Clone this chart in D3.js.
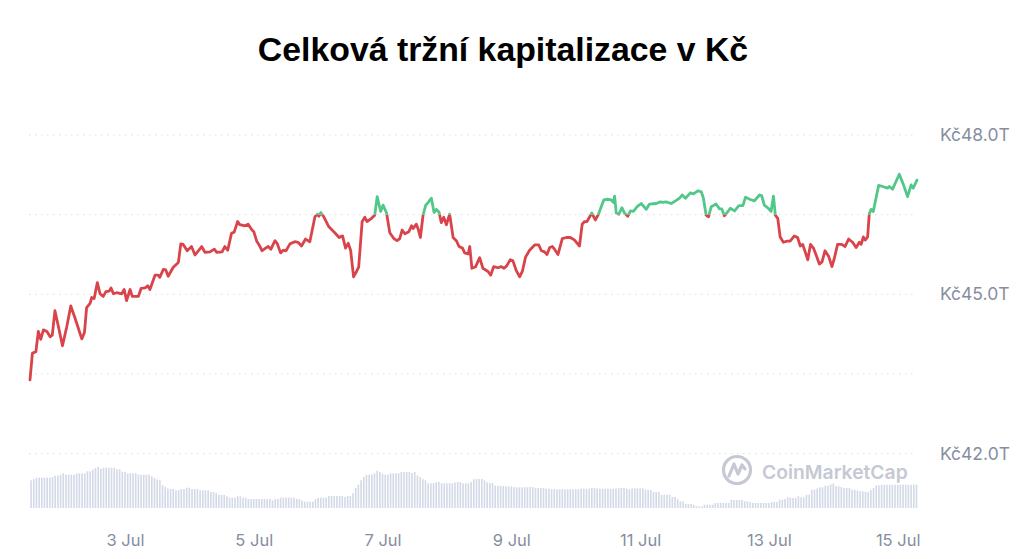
<!DOCTYPE html>
<html>
<head>
<meta charset="utf-8">
<script src="https://cdn.jsdelivr.net/npm/d3@7"></script>
<style>
  html, body { margin: 0; padding: 0; background: #fff; }
  svg { display: block; font-family: Inter, "Noto Sans", sans-serif; }
</style>
</head>
<body>
<svg id="chart" width="1024" height="559"></svg>
<script>
// market cap, hours since 1 Jul 12:00, values in trillions Kč
var lineHours = [0.6,1.5,2.8,3.7,4.6,5.6,6.9,8.1,8.9,9.9,11.2,12.7,14.3,15.8,17.4,19.9,20.9,21.7,23.0,23.6,
  24.5,25.7,26.7,27.9,28.9,30.1,30.8,31.7,32.9,34.8,35.7,36.6,37.9,38.7,41.0,42.0,43.5,44.5,45.3,47.2,
  48.4,49.0,50.3,51.2,52.1,54.0,55.9,56.8,57.7,59.2,60.8,62.1,64.6,65.8,67.7,69.3,70.2,72.2,73.2,74.3,
  75.7,76.7,78.0,78.8,80.7,81.9,83.2,84.0,85.1,86.0,87.1,88.4,89.4,90.4,91.9,92.7,94.0,95.0,96.0,97.5,
  99.3,100.5,101.8,103.3,104.9,106.8,107.8,108.3,109.0,110.1,112.0,114.2,115.8,117.1,118.2,119.2,120.1,121.2,122.3,123.1,
  124.4,125.4,126.2,127.9,129.1,130.0,131.3,132.2,133.5,134.7,136.2,137.4,138.4,139.3,140.3,141.8,142.8,143.4,144.6,145.2,
  146.1,147.1,148.1,149.0,150.2,151.2,152.1,153.1,153.9,154.8,155.8,157.0,158.3,159.5,160.5,161.8,162.6,163.9,164.5,165.3,
  166.7,168.2,169.4,171.3,172.3,173.4,175.0,176.3,177.3,178.2,179.6,180.6,181.9,183.1,184.1,185.3,186.8,188.7,190.2,191.2,
  192.4,193.3,194.3,195.3,196.1,197.4,199.0,200.5,202.0,203.6,204.4,205.4,206.4,207.3,208.2,209.2,210.0,211.3,212.5,213.5,
  214.5,215.8,217.2,218.1,218.5,219.1,220.1,221.2,222.2,223.4,224.4,225.5,226.9,228.4,230.3,231.5,234.0,235.5,236.5,237.7,
  239.6,241.2,242.7,243.7,244.9,246.7,247.9,249.5,250.8,251.6,252.6,253.5,254.5,256.3,257.6,258.4,259.4,260.3,261.6,263.2,
  264.8,266.3,267.3,268.8,270.6,272.5,273.3,274.3,275.8,276.8,277.7,278.4,279.3,280.2,281.4,282.8,283.9,285.5,286.7,287.7,
  288.6,290.5,291.5,292.6,293.6,294.8,295.8,296.9,298.3,299.5,300.4,301.6,303.1,304.4,305.7,307.2,308.5,309.7,310.4,311.2,
  311.9,312.8,313.4,314.1,314.9,316.9,318.4,320.2,320.9,322.1,324.6,326.1,327.7,329.0,329.8,331.2];

var lineCap = [43.39,43.89,43.92,44.30,44.15,44.33,44.30,44.20,44.23,44.69,44.39,44.03,44.39,44.78,44.55,44.16,44.28,44.75,44.83,44.94,
  44.92,45.22,45.01,44.96,45.05,45.06,45.12,45.01,45.03,45.01,45.09,44.88,45.09,44.96,44.96,45.11,45.12,45.16,45.09,45.36,
  45.36,45.32,45.47,45.46,45.34,45.51,45.60,45.95,45.94,45.82,45.90,45.74,45.90,45.79,45.80,45.85,45.79,45.80,45.90,45.83,
  46.15,46.17,46.37,46.31,46.29,46.32,46.22,46.18,46.00,45.93,45.82,45.87,45.90,45.85,46.01,45.96,45.78,45.83,45.82,45.95,
  45.99,45.98,45.91,46.04,45.99,46.46,46.51,46.47,46.54,46.46,46.27,46.16,46.07,46.10,45.87,45.96,45.83,45.33,45.43,45.51,
  46.37,46.45,46.37,46.43,46.49,46.84,46.56,46.68,46.53,46.16,46.05,46.01,46.05,46.21,46.14,46.18,46.29,46.24,46.32,46.24,
  46.07,46.49,46.68,46.73,46.81,46.54,46.60,46.54,46.35,46.45,46.31,46.51,46.07,46.01,45.90,45.87,45.78,45.76,45.90,45.49,
  45.52,45.69,45.49,45.43,45.36,45.52,45.50,45.52,45.49,45.53,45.65,45.63,45.44,45.33,45.43,45.70,45.83,45.93,45.93,45.82,
  45.80,45.75,45.88,45.90,45.85,45.75,46.05,46.07,46.07,46.02,45.97,45.91,46.32,46.37,46.37,46.46,46.53,46.40,46.51,46.65,
  46.78,46.79,46.78,46.73,46.85,46.53,46.51,46.63,46.53,46.47,46.57,46.56,46.65,46.71,46.60,46.70,46.71,46.74,46.73,46.74,
  46.71,46.76,46.81,46.87,46.81,46.91,46.89,46.95,46.93,46.81,46.49,46.46,46.65,46.70,46.61,46.61,46.48,46.53,46.62,46.57,
  46.67,46.67,46.83,46.79,46.76,46.87,46.86,46.68,46.62,46.56,46.85,46.49,46.43,46.08,45.98,46.00,46.00,46.10,46.07,45.91,
  45.94,45.65,45.94,45.87,45.74,45.57,45.61,45.82,45.71,45.52,45.68,45.94,45.94,45.90,46.04,45.98,45.88,45.98,45.94,46.08,
  46.02,46.08,46.51,46.60,46.56,47.05,47.03,47.00,47.03,46.98,47.26,47.07,46.84,47.06,47.00,47.15];

// hourly volume (relative units), one bar per hour starting at hour 1
var volume = [27.7,29,30.3,30.3,30.3,30.3,30.3,30.3,31,32.3,32.3,33.3,34.7,33.3,33.3,33.3,33.3,34.7,34.7,34.7,
  34.7,36.7,36.7,38.3,40,41,39.3,40.3,40.3,40.3,40.3,40.3,38.7,38.7,36.3,36.3,34.7,34.7,34.7,34.7,
  33.3,33.3,33.3,33.3,33.3,31.7,30,28.5,27.7,22.7,21,19.5,19,19,17.7,17.7,19,19,20.3,20.3,
  19,19,19,17.7,17.7,17.7,17.7,16,16,14.7,13,13,13,11.7,10.3,10.3,10.3,11.7,11.7,10.3,
  10.3,9,9,9,9,9,9,9,9,9,7.7,9,9,10.3,10.3,10.3,10.3,10.3,10.3,9,
  9,7.5,6.3,6.3,6.3,6.3,9,10.3,10.3,10.3,10.3,12,12,12,12,12,12,11,12,12,
  14.7,20,23.3,27.7,31,33.3,33.3,33.3,34.7,37.3,36,34.5,33.3,33.3,34.7,34.7,34.7,34.7,36,36,
  36,36,35,36,32.5,31,29,27.7,24.7,24.7,24.7,26,26,24.7,24.7,24.7,24.7,24.7,25.5,26,
  26,24.7,24.7,24.7,26,28.7,29,29,29,27.7,25.5,25,25,22.3,22.3,22.3,22,21.7,21.7,21.7,
  21,20.7,20.7,20.7,20.7,20.7,21,21,20,20,20,20,19.3,19.3,18.7,18.7,18.7,18.7,18.7,18.7,
  18.7,18.7,18.7,18.7,18.7,19.3,19.3,19.3,19.3,20,20,19.5,19.3,19.3,19.3,19.3,19.3,19.3,19.5,20,
  20,20,19.5,18.7,19.5,19.7,19.7,19.7,19.7,18.5,18,18,16,16,16,13.3,13.3,13.3,13.3,11,
  11,9,6.7,6.7,4,4,4,3,1.7,1.7,1.7,3.3,3.3,3.3,3.3,5,5,5,5,5,
  5,8,8,8,8,8,6.7,6.7,6,5,5,5,5,5,5,5,6,6,6,8.3,
  8.3,9,10.7,10.5,10,10,11.7,10.7,10.7,13.3,13.3,18.3,18.3,19.5,20.7,20.7,22.3,22.3,23.5,24.3,
  22,21.7,21,20,20,20,18.3,18.3,17.5,16.7,16.7,16.3,16,18,20,22.7,22.7,23,23.3,23.3,
  23.3,23.3,23.3,23.3,23.3,23.3,23.3,23.3,23.3,23.3,23.3];

var gridValues  = [42, 43.5, 45, 46.5, 48];
var labelValues = [42, 45, 48];
var baseline    = 46.5;
var tickDays    = [3, 5, 7, 9, 11, 13, 15];

var start = new Date(2023, 6, 1, 12, 0, 0);
var toDate = function (h) { return new Date(start.getTime() + h * 3600 * 1000); };

var points = lineHours.map(function (h, i) { return { time: toDate(h), value: lineCap[i] }; });
var bars   = volume.map(function (v, i) { return { time: toDate(i + 1), value: v }; });

var svg = d3.select("#chart");

var x = d3.scaleTime()
    .domain(d3.extent(points, function (d) { return d.time; }))
    .range([30, 917]);

var y = d3.scaleLinear()
    .domain([42, 48])
    .range([453.6, 135]);

var yVol = d3.scaleLinear()
    .domain([0, d3.max(volume)])
    .range([508, 467]);

// title
svg.append("text")
    .attr("x", 503)
    .attr("y", 61)
    .attr("text-anchor", "middle")
    .attr("font-family", "'Liberation Sans', Arial, sans-serif")
    .attr("font-weight", "bold")
    .attr("font-size", 33.8)
    .attr("fill", "#000")
    .text("Celková tržní kapitalizace v Kč");

// gridlines
svg.append("g")
    .selectAll("line")
    .data(gridValues)
    .enter().append("line")
      .attr("x1", 29)
      .attr("x2", 917)
      .attr("y1", function (d) { return y(d); })
      .attr("y2", function (d) { return y(d); })
      .attr("stroke", "#dadde4")
      .attr("stroke-width", 1)
      .attr("stroke-dasharray", "1.5,4.5");

// volume bars
svg.append("g")
    .selectAll("rect")
    .data(bars)
    .enter().append("rect")
      .attr("x", function (d) { return x(d.time) - 0.8; })
      .attr("width", 1.6)
      .attr("y", function (d) { return yVol(d.value); })
      .attr("height", function (d) { return yVol(0) - yVol(d.value); })
      .attr("fill", "#d3d9e6");

// watermark
var wm = svg.append("g").attr("transform", "translate(737,470)");
wm.append("circle")
    .attr("r", 13.5)
    .attr("fill", "none")
    .attr("stroke", "#c4c9d3")
    .attr("stroke-width", 3.2);
wm.append("path")
    .attr("d", "M-8,6 L-3,-6 L1,4 L5,-5 L8,-1")
    .attr("fill", "none")
    .attr("stroke", "#c4c9d3")
    .attr("stroke-width", 3.2)
    .attr("stroke-linejoin", "round")
    .attr("stroke-linecap", "round");
svg.append("text")
    .attr("x", 762)
    .attr("y", 479)
    .attr("font-size", 19.3)
    .attr("font-weight", 600)
    .attr("fill", "#c4c9d3")
    .text("CoinMarketCap");

// price line split at baseline: green above, red below
var defs = svg.append("defs");
defs.append("clipPath").attr("id", "above")
  .append("rect")
    .attr("x", 0).attr("y", 0)
    .attr("width", 1024).attr("height", y(baseline));
defs.append("clipPath").attr("id", "below")
  .append("rect")
    .attr("x", 0).attr("y", y(baseline))
    .attr("width", 1024).attr("height", 559 - y(baseline));

var line = d3.line()
    .x(function (d) { return x(d.time); })
    .y(function (d) { return y(d.value); });

[["above", "#52c78a"], ["below", "#d9434a"]].forEach(function (p) {
  svg.append("path")
      .datum(points)
      .attr("clip-path", "url(#" + p[0] + ")")
      .attr("fill", "none")
      .attr("stroke", p[1])
      .attr("stroke-width", 2.8)
      .attr("stroke-linejoin", "round")
      .attr("stroke-linecap", "round")
      .attr("d", line);
});

// right-hand value labels
var yAxis = svg.append("g")
    .attr("transform", "translate(940,0)")
    .call(d3.axisRight(y)
      .tickValues(labelValues)
      .tickSize(0)
      .tickPadding(0)
      .tickFormat(function (d) { return "Kč" + d.toFixed(1) + "T"; }));
yAxis.select(".domain").remove();
yAxis.selectAll("text")
    .attr("font-family", "Inter, sans-serif")
    .attr("font-size", 17.5)
    .attr("fill", "#858ea1");

// date labels
var xAxis = svg.append("g")
    .attr("transform", "translate(0,530)")
    .call(d3.axisBottom(x)
      .tickValues(tickDays.map(function (d) { return new Date(2023, 6, d); }))
      .tickSize(0)
      .tickPadding(4)
      .tickFormat(d3.timeFormat("%-d %b")));
xAxis.select(".domain").remove();
xAxis.selectAll("text")
    .attr("font-family", "Inter, sans-serif")
    .attr("font-size", 16.5)
    .attr("fill", "#858ea1");
</script>
</body>
</html>
